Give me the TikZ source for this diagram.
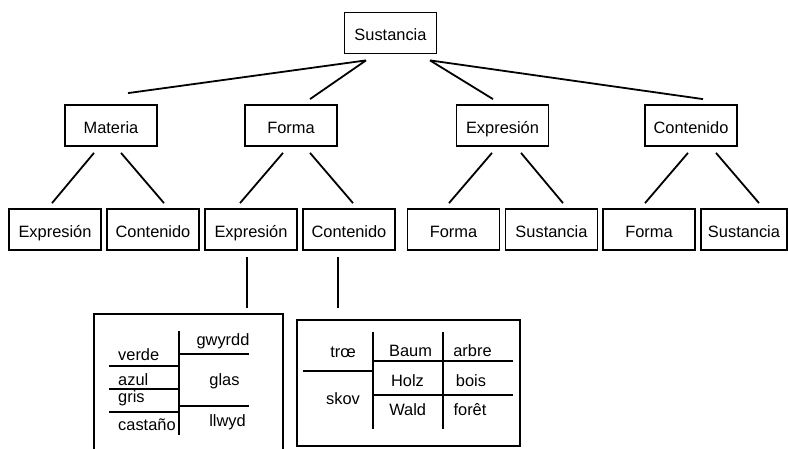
\documentclass[tikz,border=0pt]{standalone}
\usepackage{fontspec}
\setmainfont{Liberation Sans}
\usetikzlibrary{calc}
\newcommand\fsz{\fontsize{16.4}{19}\selectfont}
\begin{document}
\begin{tikzpicture}[x=1pt,y=-1pt,
  box/.style={draw, line width=1.8pt, minimum width=92pt, minimum height=41pt, inner sep=0pt, text height=15.6pt, text depth=0pt, font=\fsz},
  ln/.style={line width=1.8pt},
  tl/.style={line width=1.7pt},
  tx/.style={inner sep=0pt, anchor=base, font=\fsz},
  txw/.style={inner sep=0pt, anchor=base west, font=\fsz}]
\useasboundingbox (0,0) rectangle (788,449);
% nodes
\node[box] (S) at (390.5,33) {Sustancia};
\node[box] (M) at (111,125.5) {Materia};
\node[box] (F) at (291,125.5) {Forma};
\node[box] (E) at (502.5,125.5) {Expresión};
\node[box] (C) at (691,125.5) {Contenido};
\node[box] (a1) at (55,229.5) {Expresión};
\node[box] (a2) at (153,229.5) {Contenido};
\node[box] (a3) at (251,229.5) {Expresión};
\node[box] (a4) at (349,229.5) {Contenido};
\node[box] (a5) at (453.5,229.5) {Forma};
\node[box] (a6) at (551.5,229.5) {Sustancia};
\node[box] (a7) at (649,229.5) {Forma};
\node[box, minimum width=86pt] (a8) at (744,229.5) {Sustancia};
% level 1 -> 2
\draw[ln] ($(S.south)+(-24.5,6)$) -- ($(M.north)+(17,-11)$);
\draw[ln] ($(S.south)+(-24.5,6)$) -- ($(F.north)+(19,-5)$);
\draw[ln] ($(S.south)+(39.5,6)$) -- ($(E.north)+(-9.5,-5)$);
\draw[ln] ($(S.south)+(39.5,6)$) -- ($(C.north)+(12,-5)$);
% level 2 -> 3
\draw[ln] ($(M.south)+(-17,6)$) -- ($(a1.north)+(-3,-5)$);
\draw[ln] ($(M.south)+(10,6)$) -- ($(a2.north)+(11,-5)$);
\draw[ln] ($(F.south)+(-8,6)$) -- ($(a3.north)+(-11,-5)$);
\draw[ln] ($(F.south)+(19,6)$) -- ($(a4.north)+(4,-5)$);
\draw[ln] ($(E.south)+(-10.5,6)$) -- ($(a5.north)+(-4.5,-5)$);
\draw[ln] ($(E.south)+(18.5,6)$) -- ($(a6.north)+(11.5,-5)$);
\draw[ln] ($(C.south)+(-3,6)$) -- ($(a7.north)+(-4,-5)$);
\draw[ln] ($(C.south)+(25,6)$) -- ($(a8.north)+(15,-5)$);
% down to tables
\coordinate (T1) at (247,308);
\coordinate (T2) at (338,308);
\draw[ln] ($(a3.south)+(-4,6)$) -- (T1);
\draw[ln] ($(a4.south)+(-11,6)$) -- (T2);
% left table
\draw[ln] (94,452) -- (94,314) -- (283,314) -- (283,452);
\draw[tl] (179,331) -- (179,435);
\draw[tl] (109,366) -- (179,366);
\draw[tl] (109,389) -- (179,389);
\draw[tl] (109,412) -- (179,412);
\draw[tl] (179,354) -- (249,354);
\draw[tl] (179,406) -- (249,406);
\node[txw] (verde) at (118,360.7) {verde};
\node[txw] (azul) at (118,385) {azul};
\node[txw] (gris) at (118,402.7) {gris};
\node[txw] (castano) at (118,430.7) {castaño};
\node[tx] (gwyrdd) at (223,345.7) {gwyrdd};
\node[tx] (glas) at (224.5,385) {glas};
\node[tx] (llwyd) at (227.5,426.7) {llwyd};
% right table
\draw[ln] (297,320) rectangle (520,446);
\draw[tl] (372.7,331.7) -- (372.7,429);
\draw[tl] (443,331.7) -- (443,429);
\draw[tl] (302.7,371.3) -- (372.7,371.3);
\draw[tl] (372.7,360.7) -- (513,360.7);
\draw[tl] (372.7,394.7) -- (513,394.7);
\node[tx] (troe) at (343,358) {trœ};
\node[tx] (skov) at (343,404.3) {skov};
\node[tx] (baum) at (410.5,356) {Baum};
\node[tx] (holz) at (407.5,386) {Holz};
\node[tx] (wald) at (407.7,415) {Wald};
\node[tx] (arbre) at (472.5,356) {arbre};
\node[tx] (bois) at (471,386) {bois};
\node[tx] (foret) at (470,415) {forêt};
\end{tikzpicture}
\end{document}
